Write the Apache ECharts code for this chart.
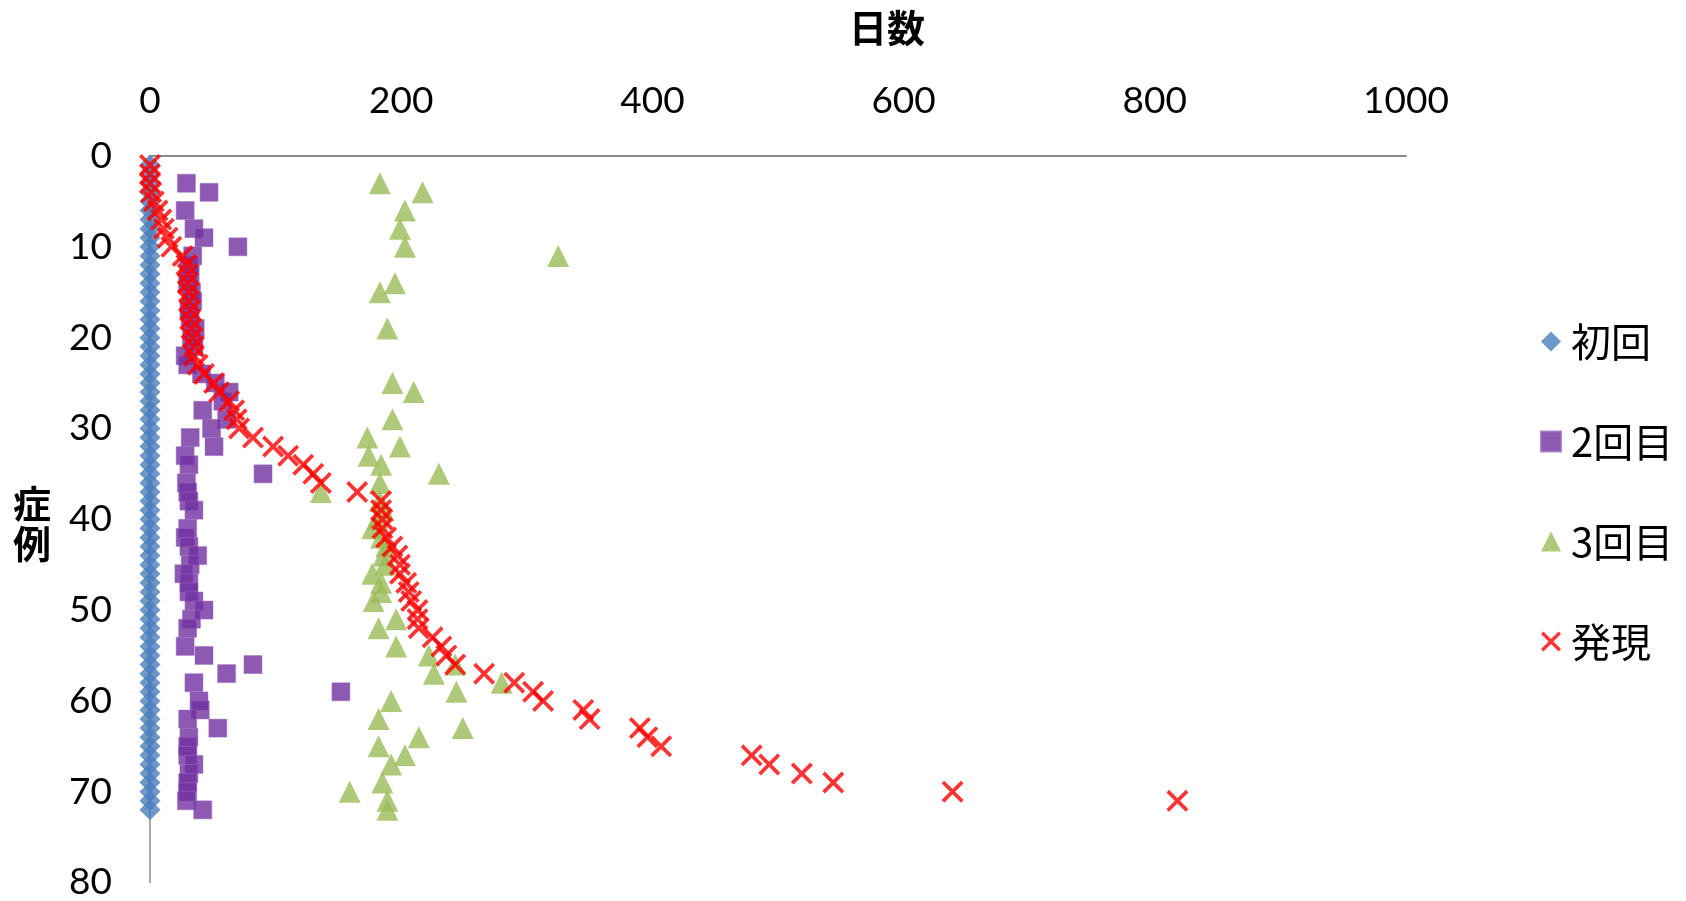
<!DOCTYPE html>
<html>
<head>
<meta charset="utf-8">
<script src="https://cdn.jsdelivr.net/npm/echarts@6/dist/echarts.min.js"></script>
<style>
  html, body { margin: 0; padding: 0; background: #ffffff; }
  #chart { width: 1686px; height: 901px; }
</style>
</head>
<body>
<div id="chart"></div>
<script>
// Case numbers (症例) 1..72
const caseNumbers = [
  1, 2, 3, 4, 5, 6, 7, 8, 9, 10, 11, 12, 13, 14, 15, 16, 17, 18,
  19, 20, 21, 22, 23, 24, 25, 26, 27, 28, 29, 30, 31, 32, 33, 34, 35, 36,
  37, 38, 39, 40, 41, 42, 43, 44, 45, 46, 47, 48, 49, 50, 51, 52, 53, 54,
  55, 56, 57, 58, 59, 60, 61, 62, 63, 64, 65, 66, 67, 68, 69, 70, 71, 72
];

// Days for each case (null = no record)
const firstDays = [
  0, 0, 0, 0, 0, 0, 0, 0, 0, 0, 0, 0, 0, 0, 0, 0, 0, 0,
  0, 0, 0, 0, 0, 0, 0, 0, 0, 0, 0, 0, 0, 0, 0, 0, 0, 0,
  0, 0, 0, 0, 0, 0, 0, 0, 0, 0, 0, 0, 0, 0, 0, 0, 0, 0,
  0, 0, 0, 0, 0, 0, 0, 0, 0, 0, 0, 0, 0, 0, 0, 0, 0, 0
];

const secondDays = [
  null, null, 29, 47, null, 28, null, 35, 43, 70, 34, 31, 32, 30, 33, 34, 31, 32,
  36, 33, 35, 28, 30, 41, 52, 63, 58, 42, 61, 49, 32, 51, 28, 31, 90, 29,
  30, 31, 35, null, 30, 28, 31, 38, 32, 27, 31, 31, 35, 43, 33, 30, null, 28,
  43, 82, 61, 35, 152, 39, 40, 30, 54, 31, 30, 30, 35, 31, 30, 30, 29, 42
];

const thirdDays = [
  null, null, 183, 217, null, 203, null, 199, null, 203, 325, null, null, 195, 183, null, null, null,
  189, null, null, null, null, null, 193, 210, null, null, 193, null, 173, 199, 174, 184, 230, 183,
  136, 183, 186, 181, 177, 184, 188, 186, 187, 177, 184, 184, 178, null, 196, 182, null, 196,
  222, 243, 226, 280, 244, 192, null, 182, 249, 214, 182, 203, 192, null, 185, 159, 189, 189
];

const onsetDays = [
  0, 0, 0, 1, 3, 6, 9, 11, 14, 17, 26, 29, 30, 30, 31, 31, 32, 32,
  33, 34, 35, 35, 38, 43, 51, 55, 63, 67, 69, 71, 82, 98, 110, 122, 130, 136,
  165, 184, 184, 185, 185, 188, 193, 197, 199, 199, 204, 206, 208, 213, 213, 214, 225, 232,
  236, 243, 266, 290, 305, 313, 345, 350, 390, 396, 407, 479, 493, 519, 544, 639, 818, null
];

const seriesNames = ['初回', '2回目', '3回目', '発現'];
const xTicks = { min: 0, max: 1000, step: 200 };
const yTicks = { min: 0, max: 80, step: 10 };

// [days, case] pairs, skipping cases without a value
function toPoints(days) {
  const pts = [];
  days.forEach(function (d, i) {
    if (d !== null) pts.push([d, caseNumbers[i]]);
  });
  return pts;
}

const latin = 'Lato, "Noto Sans CJK JP", sans-serif';
const cjk = '"Noto Sans CJK JP", Lato, sans-serif';

// filled "×" glyph used for the onset markers
const crossPath = 'path://M0,12L12,0L50,38L88,0L100,12L62,50L100,88L88,100L50,62L12,100L0,88L38,50Z';

const chart = echarts.init(document.getElementById('chart'), null, { renderer: 'canvas' });

chart.setOption({
  backgroundColor: '#ffffff',
  animation: false,
  grid: { left: 150, top: 156, width: 1256, height: 731, containLabel: false },
  xAxis: {
    type: 'value',
    position: 'top',
    min: xTicks.min,
    max: xTicks.max,
    interval: xTicks.step,
    axisLine: { show: true, onZero: false, lineStyle: { color: '#8c8c8c', width: 2 } },
    axisTick: { show: false },
    splitLine: { show: false },
    axisLabel: { color: '#000', fontSize: 37, fontFamily: latin, margin: 36, formatter: function (v) { return String(v); } }
  },
  yAxis: {
    type: 'value',
    inverse: true,
    min: yTicks.min,
    max: yTicks.max,
    interval: yTicks.step,
    axisLine: { show: true, onZero: false, lineStyle: { color: '#8c8c8c', width: 1.5 } },
    axisTick: { show: false },
    splitLine: { show: false },
    axisLabel: { color: '#000', fontSize: 37, fontFamily: latin, margin: 38, formatter: function (v) { return String(v); } }
  },
  legend: {
    orient: 'vertical',
    left: 1535,
    top: 315,
    itemWidth: 20,
    itemHeight: 20,
    itemGap: 57,
    data: seriesNames,
    textStyle: { color: '#000', fontSize: 40, lineHeight: 43, fontFamily: cjk, padding: [0, 0, 0, 5] }
  },
  graphic: [
    {
      type: 'text', x: 887, y: 28,
      style: { text: '日数', fontSize: 38, fontWeight: 'bold', fontFamily: cjk, fill: '#000', align: 'center', verticalAlign: 'middle' }
    },
    {
      type: 'text', x: 32, y: 524,
      style: { text: '症\n例', fontSize: 38, lineHeight: 40, fontWeight: 'bold', fontFamily: cjk, fill: '#000', align: 'center', verticalAlign: 'middle' }
    }
  ],
  series: [
    {
      name: seriesNames[0], type: 'scatter', symbol: 'diamond', symbolSize: 21,
      itemStyle: { color: '#4a7ebb' }, data: toPoints(firstDays)
    },
    {
      name: seriesNames[1], type: 'scatter', symbol: 'rect', symbolSize: 18,
      itemStyle: { color: '#7030a0', borderColor: '#9a6cc0', borderWidth: 0.6 }, data: toPoints(secondDays)
    },
    {
      name: seriesNames[2], type: 'scatter', symbol: 'triangle', symbolSize: 22,
      itemStyle: { color: '#9bbb59' }, data: toPoints(thirdDays)
    },
    {
      name: seriesNames[3], type: 'scatter', symbol: crossPath, symbolSize: 22,
      itemStyle: { color: '#ff0000' }, data: toPoints(onsetDays)
    }
  ]
});
</script>
</body>
</html>
